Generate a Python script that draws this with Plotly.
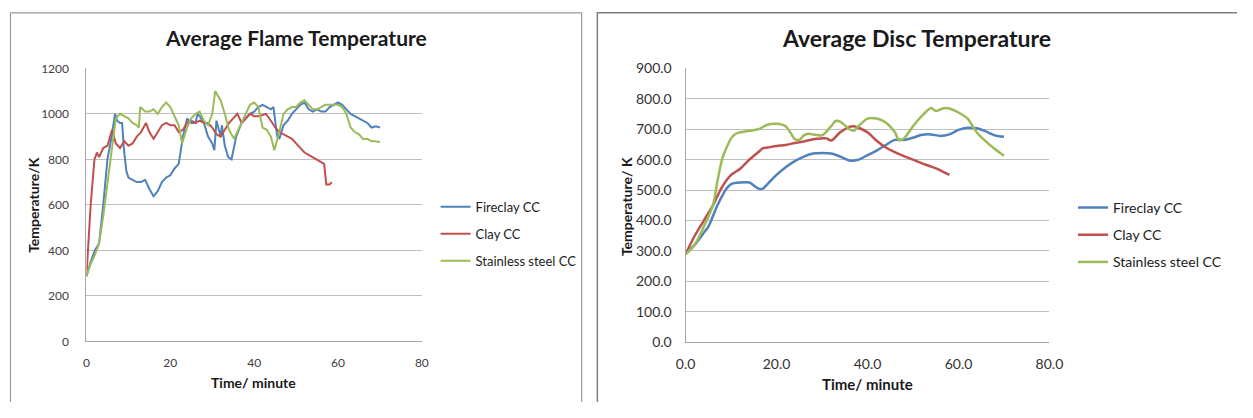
import plotly.graph_objects as go

# ---------------- Data: Average Flame Temperature ----------------
flame_fireclay_t = [0, 1, 2, 3, 4, 5, 6, 6.8, 7.3, 8, 8.5, 8.9, 9.5, 10, 11, 12, 13, 14, 15, 16, 17, 18, 19, 20,
                    21, 22, 23, 24, 25, 26, 26.5, 27, 28, 29, 30, 30.5, 31, 32, 32.3, 33, 33.8, 34.6, 35.7, 37,
                    38, 39, 40, 41, 42, 43, 44, 44.6, 45.5, 46, 47, 48, 49, 50, 51, 52, 53, 54, 55, 56, 57,
                    58, 59, 60, 61, 62, 63, 64, 65, 66, 67, 68, 69, 70]
flame_fireclay_v = [285, 350, 400, 430, 600, 800, 900, 1000, 970, 960, 960, 850, 750, 720, 710, 700, 700, 710, 670,
                    638, 660, 700, 720, 730, 760, 780, 900, 980, 960, 960, 1000, 990, 960, 900, 870, 840, 970,
                    900, 950, 860, 810, 800, 900, 960, 980, 1000, 1010, 1030, 1040, 1030, 1020, 1030, 900,
                    890, 950, 970, 1000, 1020, 1040, 1050, 1020, 1010, 1020, 1010, 1010, 1030, 1040, 1050,
                    1040, 1020, 1000, 990, 980, 970, 960, 940, 945, 940]

flame_clay_t = [0, 1, 1.9, 2.5, 3, 4, 5, 6.1, 7, 8, 9, 10, 11, 12, 13, 14.2, 15, 16, 17, 18, 19, 20, 21, 22, 23,
                24, 25, 26, 27, 28, 29, 30, 31, 32, 33, 34, 35, 36, 37, 38, 39, 40, 41, 42, 42.8, 44, 45, 46,
                47, 48, 49, 50, 51, 52, 53, 54, 55, 56, 56.7, 57.2, 58, 58.5]
flame_clay_v = [290, 600, 800, 830, 810, 850, 860, 930, 870, 850, 880, 860, 870, 900, 920, 960, 920, 890, 920,
                950, 960, 950, 950, 920, 930, 960, 970, 960, 970, 960, 960, 940, 910, 900, 930, 960, 980, 1000,
                960, 980, 1000, 990, 990, 995, 1000, 970, 940, 920, 910, 900, 890, 870, 850, 830, 820, 810,
                800, 790, 780, 690, 690, 700]

flame_steel_t = [0, 1, 2, 3, 4, 5, 6, 7, 8, 9, 10, 11, 12, 12.5, 12.8, 14, 15, 16, 17, 18, 19, 20, 21, 22, 22.8,
                 24, 25, 26, 27, 28, 29, 30, 30.7, 32, 33, 34, 35.2, 36, 37, 38, 39, 40, 41, 42, 43, 44, 44.8,
                 46, 47, 48, 49, 50, 51, 52, 53, 54, 55, 56, 57, 58, 59, 60, 61, 62, 63, 64, 65, 66, 67, 68,
                 69, 70]
flame_steel_v = [290, 340, 380, 430, 550, 700, 850, 980, 1000, 990, 980, 960, 950, 940, 1030, 1010, 1010, 1020,
                 1000, 1030, 1050, 1030, 990, 950, 870, 940, 980, 1000, 1010, 970, 950, 1000, 1100, 1060, 1000,
                 930, 890, 920, 960, 1000, 1040, 1050, 1030, 940, 930, 900, 840, 920, 1000, 1020, 1030, 1030,
                 1050, 1060, 1040, 1020, 1020, 1030, 1040, 1040, 1040, 1040, 1030, 1000, 940, 920, 910, 890,
                 890, 880, 880, 875]

# ---------------- Data: Average Disc Temperature ----------------
disc_fireclay_t = [0, 2, 4, 5, 7, 9, 10, 12, 14, 15, 16, 17, 18, 20, 22, 24, 26, 28, 30, 32, 34, 36, 38, 40, 42,
                   44, 46, 48, 50, 52, 54, 56, 58, 60, 62, 64, 66, 68, 70]
disc_fireclay_v = [290, 320, 360, 380, 450, 505, 520, 525, 525, 515, 505, 505, 520, 550, 575, 595, 610, 620, 622,
                   620, 610, 597, 600, 615, 630, 648, 665, 665, 672, 682, 683, 678, 683, 698, 705, 703, 693, 680,
                   675]

disc_clay_t = [0, 2, 4, 6, 8, 10, 12, 14, 16, 17, 18, 20, 22, 24, 26, 28, 30, 31, 32, 34, 36, 37, 38, 40, 42, 44,
               46, 48, 50, 52, 54, 56, 58]
disc_clay_v = [290, 350, 400, 450, 510, 550, 570, 600, 625, 638, 640, 645, 648, 655, 660, 667, 670, 670, 663, 690,
               708, 710, 705, 690, 662, 640, 625, 612, 600, 588, 577, 565, 550]

disc_steel_t = [0, 2, 4, 6, 7, 8, 9, 10, 11, 12, 14, 16, 18, 20, 22, 23, 24, 25, 26, 27, 28, 30, 32, 33, 34, 36,
                37, 38, 40, 42, 44, 46, 47, 48, 50, 52, 54, 55, 56, 57, 58, 60, 62, 64, 66, 68, 70]
disc_steel_v = [290, 320, 380, 450, 530, 600, 640, 670, 685, 690, 695, 700, 715, 718, 710, 690, 668, 665, 680, 685,
                683, 680, 710, 727, 725, 700, 695, 710, 735, 735, 722, 690, 663, 670, 710, 745, 770, 760, 765, 770,
                768, 755, 735, 690, 660, 635, 613]

series_names = ["Fireclay CC", "Clay CC", "Stainless steel CC"]
colors = ["#4F81BD", "#C0504D", "#9BBB59"]

flame_x = [0, 20, 40, 60, 80]
flame_y = [0, 200, 400, 600, 800, 1000, 1200]
disc_x = [0, 20, 40, 60, 80]
disc_y = [0, 100, 200, 300, 400, 500, 600, 700, 800, 900]

# page has an 8px body margin; figure sized so page is exactly 1253x418
PAGE_W, PAGE_H, BODY = 1253, 418, 8
W, H = PAGE_W - 2 * BODY, PAGE_H - 2 * BODY
FONT = "Lato"


def px_x(p):
    return (p - BODY) / W


def px_y(p):
    return (PAGE_H - BODY - p) / H


fig = go.Figure()

flame_sets = [(flame_fireclay_t, flame_fireclay_v), (flame_clay_t, flame_clay_v), (flame_steel_t, flame_steel_v)]
disc_sets = [(disc_fireclay_t, disc_fireclay_v), (disc_clay_t, disc_clay_v), (disc_steel_t, disc_steel_v)]

for i, (t, v) in enumerate(flame_sets):
    fig.add_trace(go.Scatter(x=t, y=v, mode="lines", name=series_names[i],
                             line=dict(color=colors[i], width=2),
                             xaxis="x", yaxis="y", legend="legend", legendgroup="f%d" % i))
for i, (t, v) in enumerate(disc_sets):
    fig.add_trace(go.Scatter(x=t, y=v, mode="lines", name=series_names[i],
                             line=dict(color=colors[i], width=2.5, shape="spline", smoothing=0.8),
                             xaxis="x2", yaxis="y2", legend="legend2", legendgroup="d%d" % i))

base = dict(zeroline=False, showline=True, linecolor="#A6A6A6", linewidth=1.2, ticks="")
grid_on = dict(showgrid=True, gridcolor="#BFBFBF", gridwidth=1.2)

fig.update_layout(
    width=W, height=H,
    margin=dict(l=0, r=0, t=0, b=0),
    paper_bgcolor="white", plot_bgcolor="white",
    font=dict(family=FONT, color="#1a1a1a"),
    xaxis=dict(domain=[px_x(86), px_x(428)], range=[0, 80], tickvals=flame_x, anchor="y",
               showgrid=False, ticklabelstandoff=10,
               tickfont=dict(family=FONT, size=12, color="#404040"), **base),
    yaxis=dict(domain=[px_y(355), px_y(70)], range=[0, 1200], tickvals=flame_y, anchor="x",
               ticklabelstandoff=14, tickfont=dict(family=FONT, size=12, color="#404040"),
               **grid_on, **base),
    xaxis2=dict(domain=[px_x(697), px_x(1068)], range=[0, 80], tickvals=disc_x, tickformat=".1f",
                anchor="y2", showgrid=False, ticklabelstandoff=9,
                tickfont=dict(family=FONT, size=14, color="#333333"), **base),
    yaxis2=dict(domain=[px_y(356), px_y(70)], range=[0, 900], tickvals=disc_y, tickformat=".1f",
                anchor="x2", ticklabelstandoff=10,
                tickfont=dict(family=FONT, size=14, color="#333333"), **grid_on, **base),
    legend=dict(x=px_x(442), y=px_y(199), xanchor="left", yanchor="top",
                font=dict(family=FONT, size=13, color="#1a1a1a"), tracegroupgap=7,
                bgcolor="rgba(0,0,0,0)"),
    legend2=dict(x=px_x(1092), y=px_y(199), xanchor="left", yanchor="top",
                 font=dict(family=FONT, size=14, color="#1a1a1a"), tracegroupgap=6,
                 bgcolor="rgba(0,0,0,0)"),
    shapes=[
        dict(type="rect", xref="paper", yref="paper", x0=px_x(8.5), x1=px_x(591), y0=-0.05, y1=px_y(12),
             line=dict(color="#9a9a9a", width=1.2), fillcolor="rgba(0,0,0,0)", layer="below"),
        dict(type="rect", xref="paper", yref="paper", x0=px_x(607), x1=1.05, y0=-0.05, y1=px_y(12),
             line=dict(color="#7f7f7f", width=1.5), fillcolor="rgba(0,0,0,0)", layer="below"),
    ],
    annotations=[
        dict(text="<b>Average Flame Temperature</b>", x=px_x(300), y=px_y(38), xref="paper", yref="paper",
             showarrow=False, xanchor="center", yanchor="middle",
             font=dict(family=FONT, size=21, color="#1a1a1a")),
        dict(text="<b>Average Disc Temperature</b>", x=px_x(932), y=px_y(38), xref="paper", yref="paper",
             showarrow=False, xanchor="center", yanchor="middle",
             font=dict(family=FONT, size=23, color="#1a1a1a")),
        dict(text="<b>Temperature/K</b>", x=px_x(32), y=px_y(213), xref="paper", yref="paper",
             showarrow=False, textangle=-90, xanchor="center", yanchor="middle",
             font=dict(family=FONT, size=14, color="#1a1a1a")),
        dict(text="<b>Temperature/ K</b>", x=px_x(636), y=px_y(214), xref="paper", yref="paper",
             showarrow=False, textangle=-90, xanchor="center", yanchor="middle",
             font=dict(family=FONT, size=14, color="#1a1a1a")),
        dict(text="<b>Time/ minute</b>", x=px_x(256), y=px_y(398), xref="paper", yref="paper",
             showarrow=False, xanchor="center", yanchor="middle",
             font=dict(family=FONT, size=14, color="#1a1a1a")),
        dict(text="<b>Time/ minute</b>", x=px_x(882), y=px_y(400), xref="paper", yref="paper",
             showarrow=False, xanchor="center", yanchor="middle",
             font=dict(family=FONT, size=15, color="#1a1a1a")),
    ],
)

fig.write_html("out.html")
